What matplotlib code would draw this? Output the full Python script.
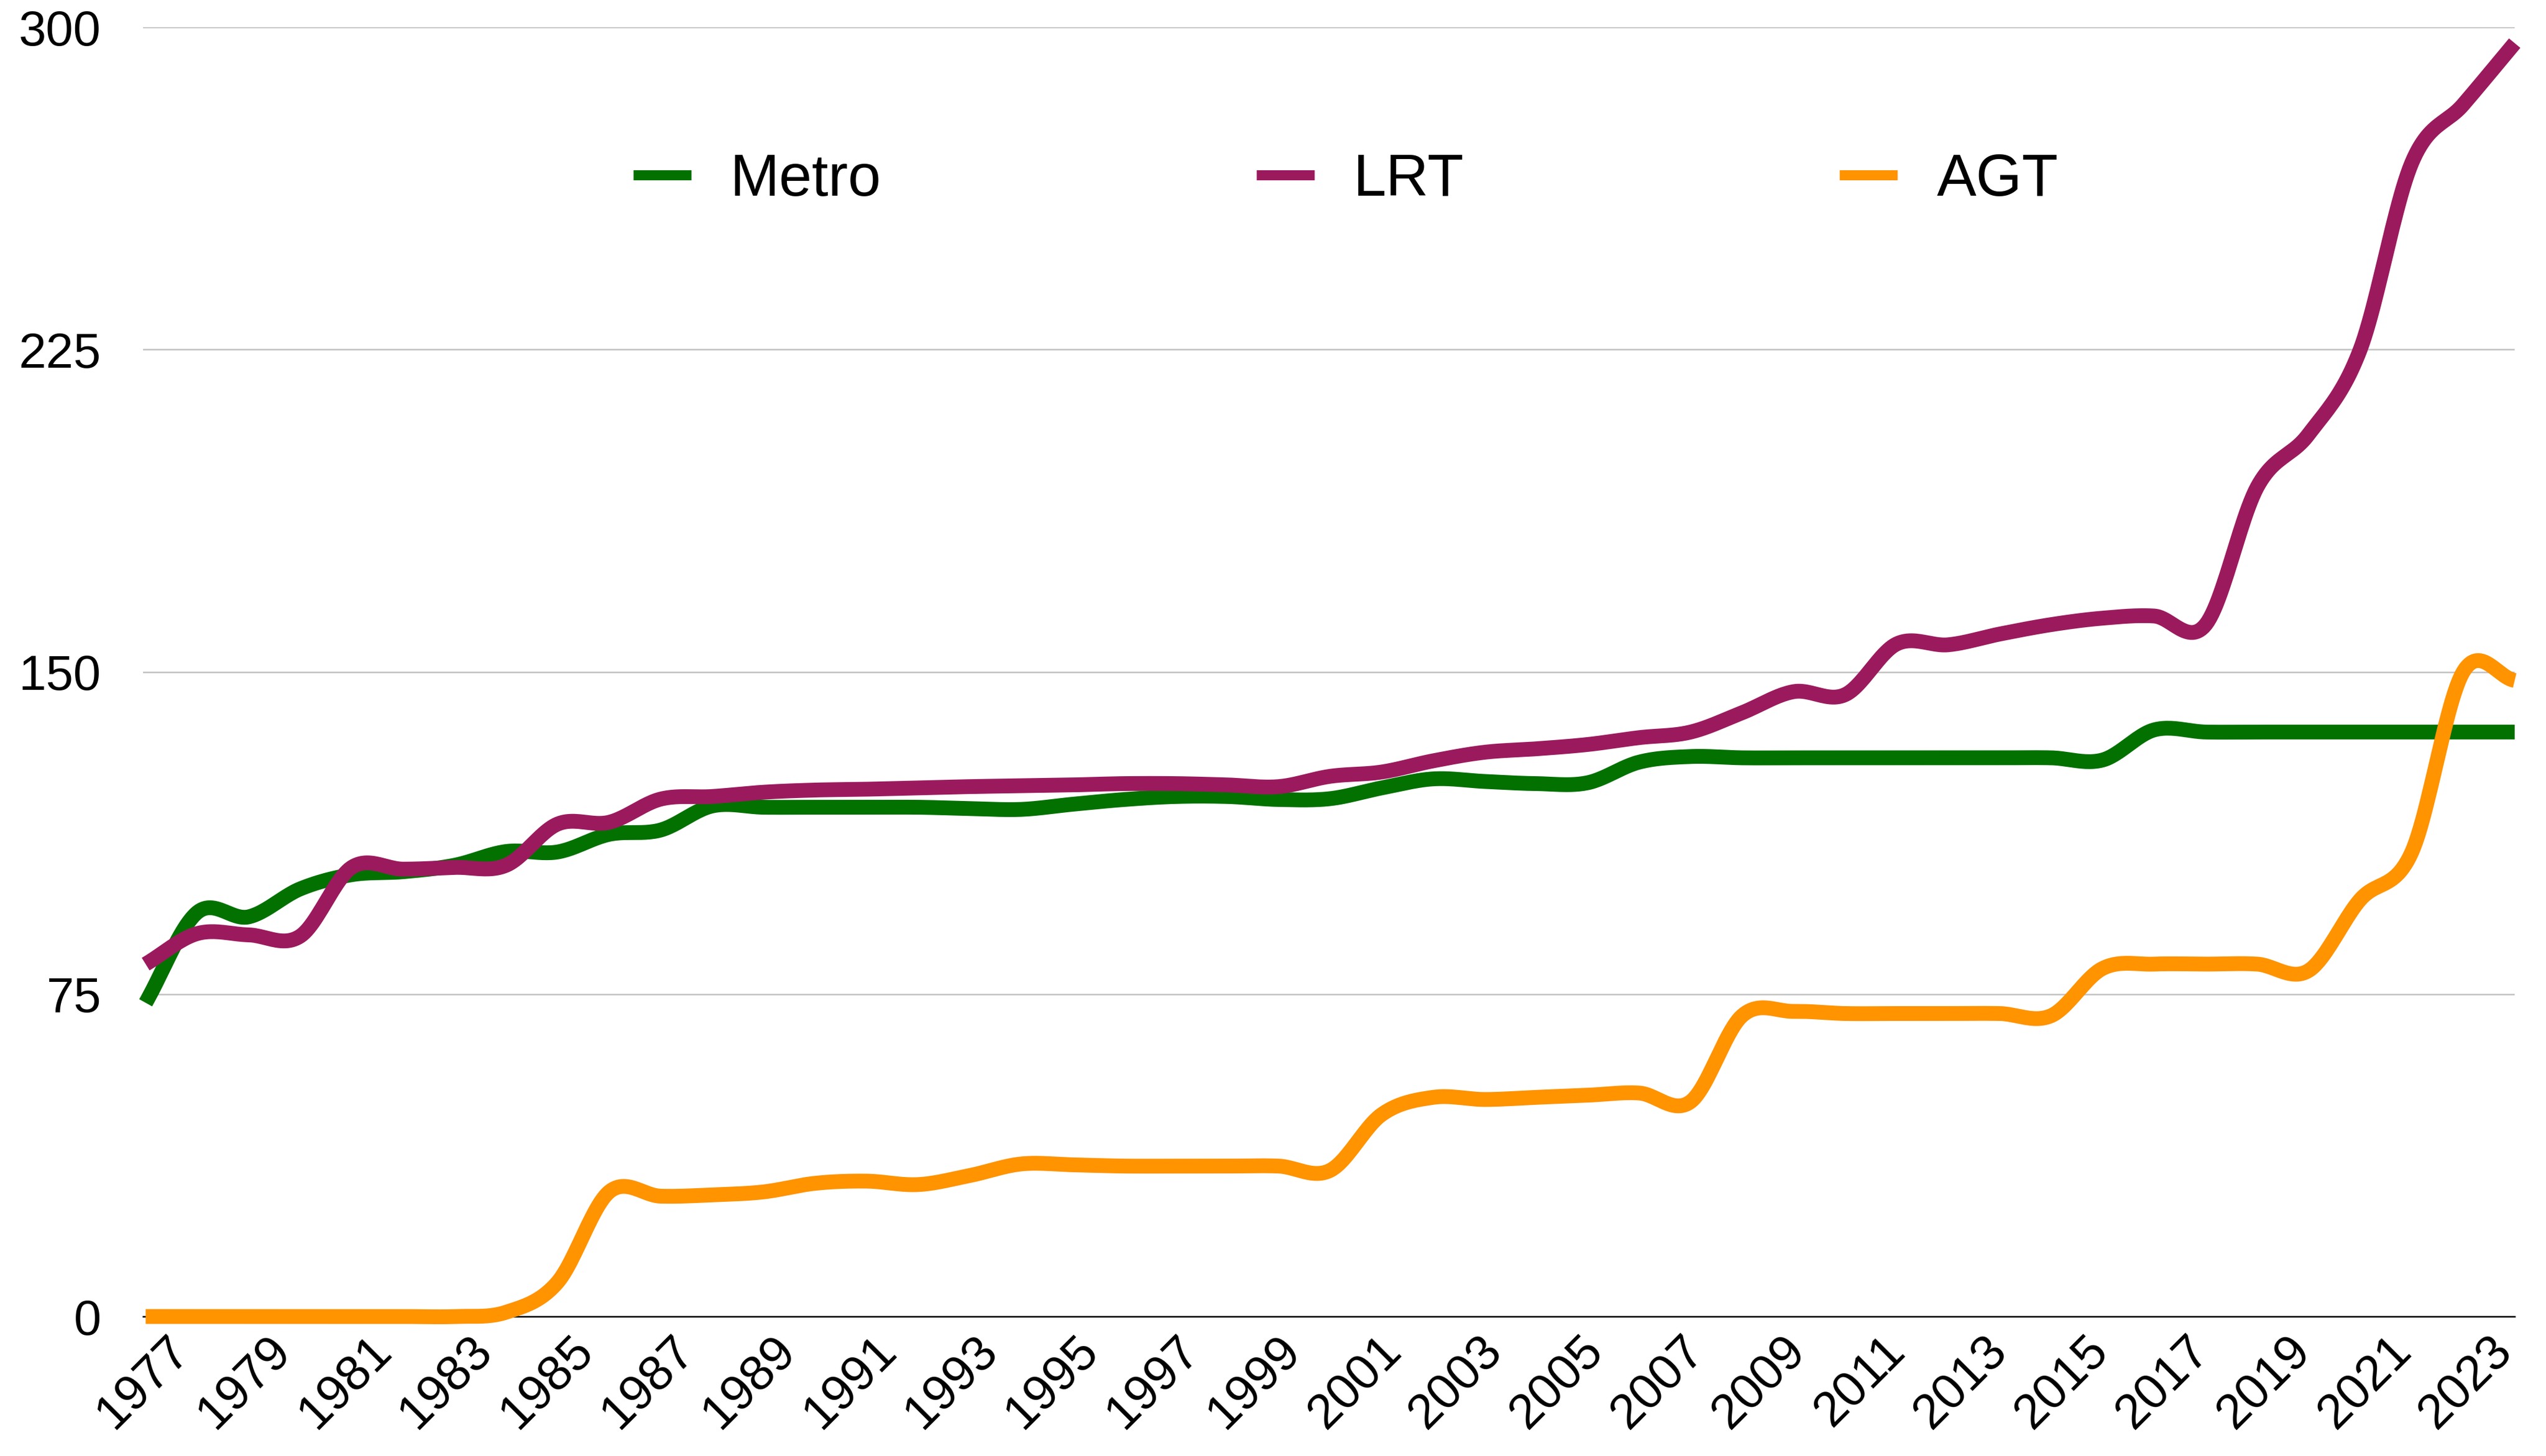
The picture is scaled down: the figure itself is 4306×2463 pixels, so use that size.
import numpy as np
import matplotlib
matplotlib.use("Agg")
import matplotlib.pyplot as plt
from matplotlib.lines import Line2D

plt.rcParams['font.family'] = ['Liberation Sans', 'DejaVu Sans']

# data
years = list(range(1977, 2024))

metro = [73, 94, 93, 99.5, 102.8, 103.5, 105, 108.2, 108.1, 112.2,
         113.2, 118.8, 118.5, 118.5, 118.5, 118.5, 118.2, 118, 119.2, 120.3,
         121, 121, 120.3, 120.5, 123, 125.1, 124.5, 124, 124.2, 129,
         130.3, 130, 130, 130, 130, 130, 130, 130, 129.5, 136.5,
         136, 136, 136, 136, 136, 136, 136]

lrt = [82, 89.1, 88.8, 88.5, 104.5, 104.1, 104.5, 105, 114.6, 115,
       120.4, 121, 122, 122.5, 122.7, 123, 123.3, 123.5, 123.7, 124,
       124, 123.7, 123.3, 125.7, 126.7, 129.3, 131.3, 132.1, 133.1, 134.7,
       136, 140.5, 145.4, 144.7, 156.5, 156.3, 158.8, 161, 162.5, 163,
       161, 193, 205.3, 225, 268.4, 282, 296.3]

agt = [0, 0, 0, 0, 0, 0, 0, 1, 8, 29,
       28, 28.3, 29, 31, 31.5, 30.7, 32.8, 35.5, 35.3, 35,
       35, 35, 35, 34, 47, 51, 50.5, 51, 51.5, 52,
       50, 70, 71, 70.5, 70.5, 70.5, 70.5, 70, 81, 82,
       82, 82, 80.5, 97, 108, 150, 148]

series = ['Metro', 'LRT', 'AGT']
colors = ['#027100', '#9B1A5E', '#FF9300']
y_ticks = [0, 75, 150, 225, 300]


def smooth(x, y, n=24):
    '''Catmull-Rom curve through the yearly points (drawing only).'''
    x = np.asarray(x, float)
    y = np.asarray(y, float)
    m = np.empty_like(y)
    m[1:-1] = (y[2:] - y[:-2]) / 2.0
    m[0] = y[1] - y[0]
    m[-1] = y[-1] - y[-2]
    xs, ys = [], []
    t = np.linspace(0, 1, n, endpoint=False)
    h00 = 2 * t**3 - 3 * t**2 + 1
    h10 = t**3 - 2 * t**2 + t
    h01 = -2 * t**3 + 3 * t**2
    h11 = t**3 - t**2
    for i in range(len(x) - 1):
        xs.append(x[i] + t * (x[i + 1] - x[i]))
        ys.append(h00 * y[i] + h10 * m[i] + h01 * y[i + 1] + h11 * m[i + 1])
    xs.append([x[-1]])
    ys.append([y[-1]])
    return np.concatenate(xs), np.concatenate(ys)


fig = plt.figure(figsize=(43.06, 24.63), dpi=100)
ax = fig.add_axes([0.0562, 0.0958, 0.9315, 0.8855])

for name, vals, c in zip(series, [metro, lrt, agt], colors):
    sx, sy = smooth(years, vals)
    ax.plot(sx, sy, color=c, lw=18, solid_capstyle='butt',
            solid_joinstyle='round', clip_on=False, zorder=3, label=name)

ax.set_xlim(1977, 2023)
ax.set_ylim(0, 300)
ax.set_yticks(y_ticks)
ax.set_yticklabels([str(v) for v in y_ticks], fontsize=60)
ax.grid(axis='y', color='#c0c0c0', lw=1.8, zorder=0)
ax.set_axisbelow(True)

# year labels every second year, spaced like the reference
lab_years = years[::2]
lab_pos = [1976.95 + (yr - 1977) * 0.9805 for yr in lab_years]
ax.set_xticks(lab_pos)
ax.set_xticklabels([str(yr) for yr in lab_years], rotation=45,
                   ha='center', fontsize=60)

ax.tick_params(axis='y', length=0, pad=51)
ax.tick_params(axis='x', length=0, pad=13)
for s in ['top', 'right', 'left']:
    ax.spines[s].set_visible(False)
ax.spines['bottom'].set_color('black')
ax.spines['bottom'].set_linewidth(1.8)
ax.spines['bottom'].set_zorder(1)

handles = [Line2D([], [], color=c, lw=12.3, solid_capstyle='butt')
           for c in colors]
fig.legend(handles, series, ncol=3, loc='center',
           bbox_to_anchor=(0.5285, 0.8762), frameon=False, fontsize=72,
           handlelength=0.98, handletextpad=0.66, columnspacing=6.35)

fig.savefig('out.png', dpi=100, facecolor='white')
